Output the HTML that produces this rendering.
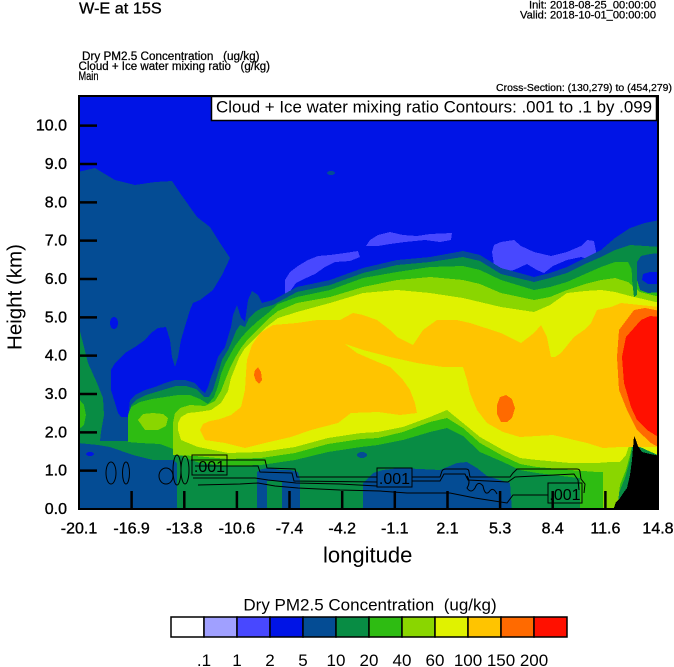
<!DOCTYPE html>
<html><head><meta charset="utf-8"><style>
html,body{margin:0;padding:0;background:#fff;}
svg{display:block;font-family:"Liberation Sans",Arial,sans-serif;}
</style></head><body>
<svg width="674" height="667" viewBox="0 0 674 667" xmlns="http://www.w3.org/2000/svg">
<defs><clipPath id="pc"><rect x="79" y="96" width="579" height="413"/></clipPath></defs>
<rect x="0" y="0" width="674" height="667" fill="#fff"/>
<g clip-path="url(#pc)" shape-rendering="crispEdges">
<rect x="78" y="95" width="582" height="416" fill="#0014E6"/>
<!-- lavender patches -->
<polygon fill="#4848FF" points="285,297 285,280 290,272 298,266 308,260 318,256 330,255 345,253 358,251 360,257 350,261 335,262 325,267 315,274 304,279 296,283 291,290 290,298"/>
<polygon fill="#4848FF" points="366,246 370,240 378,235 390,232 403,235 417,236 430,234 452,233 451,240 440,242 425,240 405,242 390,244 378,246"/>
<polygon fill="#4848FF" points="492,252 494,245 501,242 514,240 521,246 534,252 551,256 567,252 581,246 587,240 594,241 597,256 590,260 581,257 567,260 553,266 544,273 537,270 527,264 514,270 501,273 494,265"/>
<ellipse cx="331" cy="173" rx="4" ry="2" fill="#044C94"/>
<!-- dark blue >=5 -->
<polygon fill="#044C94" points="78,172 95,168 115,180 135,185 155,182 172,181 180,193 197,217 210,227 220,243 230,258 222,275 213,290 200,300 193,303 190,310 186,323 181,340 178,357 175,367 172,357 170,340 166,327 158,328 151,333 145,340 135,347 125,353 115,363 111,370 111,390 115,403 118,413 121,417 128,417 130,400 135,395 145,390 155,387 165,383 175,380 185,380 195,383 201,390 205,393 208,387 211,377 215,367 218,357 225,347 228,337 231,327 233,315 237,305 241,318 245,322 248,300 252,291 258,295 262,303 273,300 297,287 330,280 363,268 397,260 430,257 463,251 480,255 501,268 534,277 550,273 567,267 585,258 601,250 615,238 630,228 645,223 660,220 660,511 78,511"/>
<ellipse cx="114" cy="323" rx="4" ry="6" fill="#0014E6"/>
<!-- green >=10 -->
<polygon fill="#088C44" points="78,328 79,328 83,343 88,363 97,383 103,398 104,415 101,432 100,441 131,441 131,420 131,405 136,400 146,395 156,392 166,389 176,386 186,386 196,389 204,397 209,397 213,390 216,380 219,370 222,360 228,350 232,341 236,331 240,325 245,327 249,318 255,312 262,308 273,305 297,292 330,285 363,273 397,265 430,262 463,257 480,261 501,274 534,282 550,278 567,273 585,264 601,257 615,250 630,245 645,246 660,247 660,511 78,511"/>
<polygon fill="#2EBC12" points="78,398 84,405 86,415 84,425 78,430"/>
<!-- bright green >=20 -->
<polygon fill="#2EBC12" points="128,442 128,415 131,407 140,402 152,399 165,397 178,395 190,395 200,399 208,404 214,397 218,386 221,374 225,364 230,355 235,346 241,338 248,330 258,321 268,313 278,304 297,297 330,290 363,278 397,272 430,267 463,266 480,270 501,280 534,290 550,287 567,282 585,274 601,267 615,262 628,262 632,270 636,275 645,288 660,290 660,456 640,447 636,440 634,437 630,460 625,478 618,495 613,511 580,511 580,478 570,477 537,473 520,470 503,462 480,452 463,436 447,428 430,432 403,440 378,445 361,447 328,452 295,460 261,465 228,466 200,463 185,458 176,450 160,444 140,443"/>
<!-- yellow-green >=40 -->
<polygon fill="#8AD600" points="173,455 173,423 175,413 180,408 190,405 205,406 215,401 221,391 226,378 230,368 235,358 241,348 248,339 258,329 268,319 278,311 297,303 330,297 363,287 397,280 430,277 463,280 480,284 501,293 534,300 550,297 567,290 585,284 601,280 615,278 628,282 640,292 660,297 660,456 640,447 634,437 630,455 626,470 620,485 617,511 603,511 603,472 597,472 570,470 537,467 520,464 503,456 480,443 463,428 447,418 430,422 403,432 378,438 361,439 328,444 295,453 261,458 228,459 195,456"/>
<polygon fill="#8AD600" points="138,420 143,414 153,413 163,414 168,418 166,426 158,430 145,430"/>
<!-- yellow >=60 -->
<polygon fill="#E0F200" points="181,440 178,430 178,423 181,417 188,413 198,412 211,410 221,403 228,391 231,378 235,368 239,358 245,348 255,338 265,328 278,318 297,312 330,303 363,293 397,290 430,293 463,298 501,307 534,312 550,305 567,293 585,291 601,290 615,292 630,296 660,303 660,456 640,447 634,437 630,443 626,455 620,462 610,462 597,463 570,463 537,460 520,458 503,450 480,437 463,423 447,410 430,417 403,427 378,432 361,433 328,438 295,447 261,452 228,453 198,447"/>
<!-- orange >=100 -->
<polygon fill="#FFC400" points="205,440 200,430 203,424 210,421 220,419 231,415 241,407 245,390 246,373 247,360 252,345 260,333 273,325 297,323 317,320 340,320 353,313 363,315 377,320 390,330 397,337 413,345 423,330 437,320 457,320 470,323 501,333 521,343 534,333 541,325 547,337 551,357 555,357 561,353 574,337 584,330 591,323 597,310 611,307 621,303 640,305 660,307 660,447 650,447 620,447 603,448 587,443 553,435 520,437 503,432 487,423 477,410 470,393 467,380 463,367 443,367 417,363 390,357 363,350 345,344 357,353 373,360 390,367 403,380 410,390 415,403 417,413 400,415 378,412 351,413 338,423 311,430 291,437 265,443 245,448 225,443"/>
<polygon fill="#FF6A00" points="255,370 258,367 261,372 262,380 259,384 256,381 254,375"/>
<polygon fill="#FF6A00" points="497,405 500,397 506,395 512,399 515,408 512,418 507,422 501,422 497,414"/>
<polygon fill="#FF6A00" points="634,310 645,308 660,311 660,448 651,443 637,430 627,410 619,390 617,357 619,330"/>
<polygon fill="#FF1000" points="641,320 650,316 660,317 660,438 647,430 637,420 631,407 624,383 622,357 626,337"/>
<!-- low-level dark blue patches -->
<polygon fill="#044C94" points="78,443 98,445 110,447 133,455 153,460 173,460 177,463 177,511 78,511"/>
<ellipse cx="90" cy="454" rx="4" ry="2" fill="#0014E6"/>
<polygon fill="#044C94" points="257,511 257,472 262,469 270,468 280,470 290,470 298,472 300,480 300,511 282,511 282,481 267,481 267,511"/>
<polygon fill="#044C94" points="363,511 363,483 373,473 383,470 400,468 420,469 440,470 457,463 467,462 477,468 487,476 500,480 510,483 512,511"/>
<ellipse cx="362" cy="455" rx="5" ry="3" fill="#044C94"/>
<polygon fill="#044C94" points="637,262 641,256 650,254 660,253 660,292 648,293 640,290 637,280"/>
<polygon fill="#0014E6" points="643,274 650,272 660,272 660,284 648,284 642,280"/>
<polygon fill="#088C44" points="631,250 634,248 637,258 637,295 634,297 632,280"/>
<!-- terrain -->
<polygon fill="#000" points="613,511 616,502 620,498 624,492 627,488 630,475 632,460 633,448 634,436 636,440 638,446 642,452 650,454 660,456 660,511"/>
</g>
<!-- contour lines -->
<g clip-path="url(#pc)" fill="none" stroke="#000" stroke-width="1">
<ellipse cx="111" cy="473" rx="5" ry="11"/>
<ellipse cx="126" cy="473" rx="3.5" ry="11"/>
<ellipse cx="166" cy="476" rx="7" ry="8"/>
<ellipse cx="177" cy="470" rx="4" ry="15"/>
<ellipse cx="185" cy="470" rx="4" ry="14"/>
<path d="M191,460 L265,460 L267,468 L295,469 L297,477 L377,477 M412,477 L440,477 L442,471 Q443,469 446,469 L466,469 Q469,469 469,472 L470,477 L510,477 L513,473 L517,469 L577,469 Q580,469 580,472 L581,479 L585,484 L584,493"/>
<path d="M195,466 L258,466 L260,472 L292,473 L294,481 L377,482 M412,481 L440,481 L444,474 L465,474 L468,480 L508,482 L515,477 L574,474 L578,480 L579,490"/>
<path d="M193,478 L255,478 L268,480 L296,483 L340,484 L377,486"/>
<path d="M198,485 L240,484 L258,483 L275,486 L298,488 L340,490 L380,491 L407,493 L450,493 L475,498 L507,503 L513,495 L548,495"/>
<path d="M467,476 q4,6 0,12 q4,6 8,0 q3,-8 8,-2 q2,10 6,6 q4,-6 8,2"/>
<rect x="192" y="455" width="35" height="20"/>
<rect x="377" y="468" width="35" height="19"/>
<rect x="548" y="483" width="34" height="20"/>
</g>
<g font-size="16" fill="#000" text-anchor="middle">
<text x="209.5" y="472">.001</text>
<text x="394.5" y="484">.001</text>
<text x="565" y="500">.001</text>
</g>
<!-- legend box -->
<rect x="211.5" y="96.5" width="445" height="24" fill="#fff" stroke="#000" stroke-width="1.5"/>
<text x="216" y="112.5" font-size="17" textLength="436" lengthAdjust="spacingAndGlyphs">Cloud + Ice water mixing ratio Contours: .001 to .1 by .099</text>
<!-- frame -->
<rect x="79" y="96" width="579" height="413" fill="none" stroke="#000" stroke-width="2"/>
<g stroke="#000" stroke-width="2.5">
<line x1="79" y1="470.67" x2="97" y2="470.67"/>
<line x1="79" y1="432.33" x2="97" y2="432.33"/>
<line x1="79" y1="394" x2="97" y2="394"/>
<line x1="79" y1="355.67" x2="97" y2="355.67"/>
<line x1="79" y1="317.33" x2="97" y2="317.33"/>
<line x1="79" y1="279" x2="97" y2="279"/>
<line x1="79" y1="240.67" x2="97" y2="240.67"/>
<line x1="79" y1="202.33" x2="97" y2="202.33"/>
<line x1="79" y1="164" x2="97" y2="164"/>
<line x1="79" y1="125.67" x2="97" y2="125.67"/>
<line x1="131.6" y1="491" x2="131.6" y2="509"/>
<line x1="184.3" y1="491" x2="184.3" y2="509"/>
<line x1="236.9" y1="491" x2="236.9" y2="509"/>
<line x1="289.5" y1="491" x2="289.5" y2="509"/>
<line x1="342.2" y1="491" x2="342.2" y2="509"/>
<line x1="394.8" y1="491" x2="394.8" y2="509"/>
<line x1="447.5" y1="491" x2="447.5" y2="509"/>
<line x1="500.1" y1="491" x2="500.1" y2="509"/>
<line x1="552.7" y1="491" x2="552.7" y2="509"/>
<line x1="605.4" y1="491" x2="605.4" y2="509"/>
</g>
<!-- y tick labels -->
<g font-size="16" fill="#000" stroke="#000" stroke-width="0.35" text-anchor="end">
<text x="67" y="514">0.0</text>
<text x="67" y="475.7">1.0</text>
<text x="67" y="437.3">2.0</text>
<text x="67" y="399">3.0</text>
<text x="67" y="360.7">4.0</text>
<text x="67" y="322.3">5.0</text>
<text x="67" y="284">6.0</text>
<text x="67" y="245.7">7.0</text>
<text x="67" y="207.3">8.0</text>
<text x="67" y="169">9.0</text>
<text x="67" y="130.7">10.0</text>
</g>
<!-- x tick labels -->
<g font-size="16" fill="#000" stroke="#000" stroke-width="0.35" text-anchor="middle">
<text x="79" y="533.3">-20.1</text>
<text x="131.6" y="533.3">-16.9</text>
<text x="184.3" y="533.3">-13.8</text>
<text x="236.9" y="533.3">-10.6</text>
<text x="289.5" y="533.3">-7.4</text>
<text x="342.2" y="533.3">-4.2</text>
<text x="394.8" y="533.3">-1.1</text>
<text x="447.5" y="533.3">2.1</text>
<text x="500.1" y="533.3">5.3</text>
<text x="552.7" y="533.3">8.4</text>
<text x="605.4" y="533.3">11.6</text>
<text x="658" y="533.3">14.8</text>
</g>
<text x="367.7" y="562.5" font-size="22" text-anchor="middle">longitude</text>
<text transform="translate(21.5,297) rotate(-90)" font-size="20.5" text-anchor="middle">Height (km)</text>
<!-- titles -->
<text x="79" y="13.3" font-size="16" stroke="#000" stroke-width="0.3" textLength="82.7" lengthAdjust="spacingAndGlyphs">W-E at 15S</text>
<g stroke="#000" stroke-width="0.25">
<text x="82" y="59.8" font-size="11.5" style="white-space:pre" textLength="177.5" lengthAdjust="spacingAndGlyphs">Dry PM2.5 Concentration   (ug/kg)</text>
<text x="78.5" y="69.8" font-size="11.5" style="white-space:pre" textLength="191.5" lengthAdjust="spacingAndGlyphs">Cloud + Ice water mixing ratio   (g/kg)</text>
<text x="78.5" y="79.8" font-size="11.5" textLength="20" lengthAdjust="spacingAndGlyphs">Main</text>
<text x="529" y="8.5" font-size="11" textLength="127" lengthAdjust="spacingAndGlyphs">Init: 2018-08-25_00:00:00</text>
<text x="520" y="18.5" font-size="11" textLength="136" lengthAdjust="spacingAndGlyphs">Valid: 2018-10-01_00:00:00</text>
<text x="496" y="91" font-size="10.5" textLength="176" lengthAdjust="spacingAndGlyphs">Cross-Section: (130,279) to (454,279)</text>
</g>
<!-- label bar -->
<text x="370" y="610.5" font-size="17" text-anchor="middle" style="white-space:pre">Dry PM2.5 Concentration  (ug/kg)</text>
<g stroke="#000" stroke-width="1.5">
<rect x="171" y="617" width="33" height="20" fill="#FFFFFF"/>
<rect x="204" y="617" width="33" height="20" fill="#A0A0FF"/>
<rect x="237" y="617" width="33" height="20" fill="#4848FF"/>
<rect x="270" y="617" width="33" height="20" fill="#0014E6"/>
<rect x="303" y="617" width="33" height="20" fill="#044C94"/>
<rect x="336" y="617" width="33" height="20" fill="#088C44"/>
<rect x="369" y="617" width="33" height="20" fill="#2EBC12"/>
<rect x="402" y="617" width="33" height="20" fill="#8AD600"/>
<rect x="435" y="617" width="33" height="20" fill="#E0F200"/>
<rect x="468" y="617" width="33" height="20" fill="#FFC400"/>
<rect x="501" y="617" width="33" height="20" fill="#FF6A00"/>
<rect x="534" y="617" width="33" height="20" fill="#FF1000"/>
</g>
<g font-size="17" fill="#000" text-anchor="middle">
<text x="204" y="666">.1</text>
<text x="237" y="666">1</text>
<text x="270" y="666">2</text>
<text x="303" y="666">5</text>
<text x="336" y="666">10</text>
<text x="369" y="666">20</text>
<text x="402" y="666">40</text>
<text x="435" y="666">60</text>
<text x="468" y="666">100</text>
<text x="501" y="666">150</text>
<text x="534" y="666">200</text>
</g>
</svg>
</body></html>
